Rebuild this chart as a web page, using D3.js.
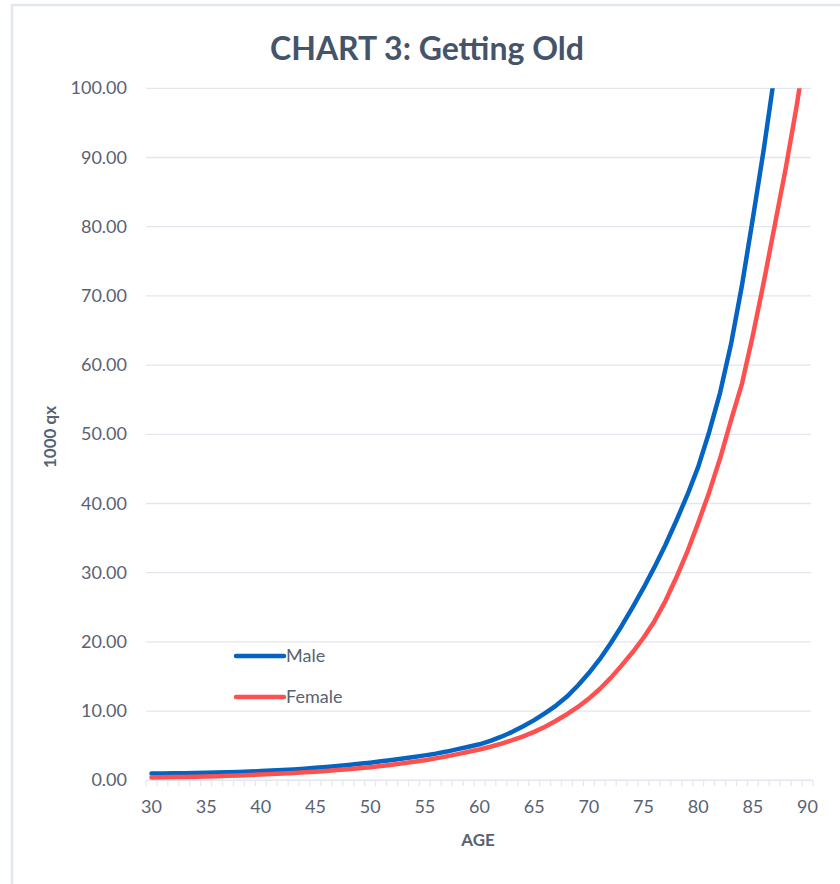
<!DOCTYPE html>
<html>
<head>
<meta charset="utf-8">
<script src="https://cdn.jsdelivr.net/npm/d3@7"></script>
<style>
  body { margin: 0; background: #fff; }
  svg { display: block; font-family: Lato, 'Open Sans', sans-serif; }
</style>
</head>
<body>
<svg width="840" height="884"></svg>
<script>
// ages 30..90
let ages = d3.range(30, 91);

let male = [
  1.00, 1.00, 1.01, 1.03, 1.05, 1.08, 1.11, 1.15, 1.20, 1.26,
  1.33, 1.40, 1.48, 1.57, 1.67, 1.80, 1.93, 2.07, 2.22, 2.38,
  2.55, 2.74, 2.94, 3.15, 3.37, 3.60, 3.85, 4.15, 4.50, 4.85,
  5.20, 5.70, 6.30, 7.00, 7.80, 8.70, 9.70, 10.80, 12.10, 13.70,
  15.50, 17.50, 19.80, 22.30, 25.00, 27.80, 30.80, 34.00, 37.50, 41.20,
  45.30, 50.30, 56.00, 63.00, 71.50, 81.20, 91.20, 102.2, 114.0, 127.0,
  141.0
];

let female = [
  0.42, 0.44, 0.46, 0.49, 0.52, 0.56, 0.60, 0.65, 0.70, 0.76,
  0.83, 0.90, 0.98, 1.06, 1.15, 1.25, 1.36, 1.48, 1.61, 1.75,
  1.90, 2.07, 2.25, 2.45, 2.67, 2.90, 3.17, 3.46, 3.78, 4.13,
  4.45, 4.85, 5.30, 5.80, 6.35, 7.00, 7.75, 8.60, 9.55, 10.60,
  11.80, 13.20, 14.80, 16.60, 18.50, 20.60, 23.00, 25.90, 29.30, 33.00,
  37.20, 41.60, 46.50, 52.00, 57.30, 64.30, 72.00, 80.20, 88.40, 97.40,
  107.5
];

let yTicks = [0, 10, 20, 30, 40, 50, 60, 70, 80, 90, 100];
let xLabels = [30, 35, 40, 45, 50, 55, 60, 65, 70, 75, 80, 85, 90];

let series = [
  {name: 'Male', values: male, color: '#0563c1'},
  {name: 'Female', values: female, color: '#ff5050'}
];

let svg = d3.select('svg');
let textColor = '#586273';
let gridColor = '#e3e6ec';

// outer chart border (only top/left visible)
svg.append('path')
  .attr('d', 'M12,884 V5 H840')
  .attr('fill', 'none')
  .attr('stroke', '#e2e6ed')
  .attr('stroke-width', 2.5);

let x = d3.scaleBand()
  .domain(ages)
  .range([146, 813]);

let y = d3.scaleLinear()
  .domain([0, 100])
  .range([780.3, 88.3]);

// title
svg.append('text')
  .attr('x', 427)
  .attr('y', 60)
  .attr('text-anchor', 'middle')
  .attr('font-size', 32)
  .attr('font-weight', 'bold')
  .attr('fill', '#44546a')
  .text('CHART 3: Getting Old');

// gridlines
svg.append('g')
  .selectAll('line')
  .data(yTicks.slice(1))
  .enter()
  .append('line')
  .attr('x1', 146)
  .attr('x2', 811)
  .attr('y1', d => y(d))
  .attr('y2', d => y(d))
  .attr('stroke', gridColor)
  .attr('stroke-width', 1.3);

// y labels
svg.append('g')
  .selectAll('text')
  .data(yTicks)
  .enter()
  .append('text')
  .attr('x', 127)
  .attr('y', d => y(d) + 6)
  .attr('text-anchor', 'end')
  .attr('font-size', 18)
  .attr('fill', textColor)
  .text(d => d3.format('.2f')(d));

// x axis line + tick marks at category boundaries
let xa = svg.append('g');
xa.append('line')
  .attr('x1', 146).attr('x2', 813)
  .attr('y1', 780.3).attr('y2', 780.3)
  .attr('stroke', gridColor)
  .attr('stroke-width', 1.5);

xa.selectAll('.tk')
  .data(ages.concat([91]))
  .enter()
  .append('line')
  .attr('class', 'tk')
  .attr('x1', d => d <= 90 ? x(d) : x(90) + x.bandwidth())
  .attr('x2', d => d <= 90 ? x(d) : x(90) + x.bandwidth())
  .attr('y1', 780.3)
  .attr('y2', 786)
  .attr('stroke', gridColor)
  .attr('stroke-width', 1.2);

xa.selectAll('text')
  .data(xLabels)
  .enter()
  .append('text')
  .attr('x', d => x(d) + x.bandwidth() / 2)
  .attr('y', 813)
  .attr('text-anchor', 'middle')
  .attr('font-size', 18)
  .attr('fill', textColor)
  .text(d => d);

// axis titles
svg.append('text')
  .attr('x', 478)
  .attr('y', 846)
  .attr('text-anchor', 'middle')
  .attr('font-size', 17)
  .attr('font-weight', 'bold')
  .attr('fill', textColor)
  .text('AGE');

svg.append('text')
  .attr('transform', 'translate(56,437) rotate(-90)')
  .attr('text-anchor', 'middle')
  .attr('font-size', 17)
  .attr('font-weight', 'bold')
  .attr('fill', textColor)
  .text('1000 qx');

// clip to plot area
svg.append('clipPath')
  .attr('id', 'plot')
  .append('rect')
  .attr('x', 140).attr('y', 88.3)
  .attr('width', 680).attr('height', 700);

let line = d3.line()
  .x((d, i) => x(ages[i]) + x.bandwidth() / 2)
  .y(d => y(d));

svg.append('g')
  .attr('clip-path', 'url(#plot)')
  .selectAll('path')
  .data(series)
  .enter()
  .append('path')
  .attr('d', d => line(d.values))
  .attr('fill', 'none')
  .attr('stroke', d => d.color)
  .attr('stroke-width', 4.5)
  .attr('stroke-linejoin', 'round')
  .attr('stroke-linecap', 'round');

// legend
let lg = svg.append('g')
  .selectAll('g')
  .data(series)
  .enter()
  .append('g')
  .attr('transform', (d, i) => `translate(236,${656 + i * 41})`);

lg.append('line')
  .attr('x1', 0).attr('x2', 48)
  .attr('stroke', d => d.color)
  .attr('stroke-width', 4.5)
  .attr('stroke-linecap', 'round');

lg.append('text')
  .attr('x', 50)
  .attr('y', 6)
  .attr('font-size', 18)
  .attr('fill', textColor)
  .text(d => d.name);
</script>
</body>
</html>
